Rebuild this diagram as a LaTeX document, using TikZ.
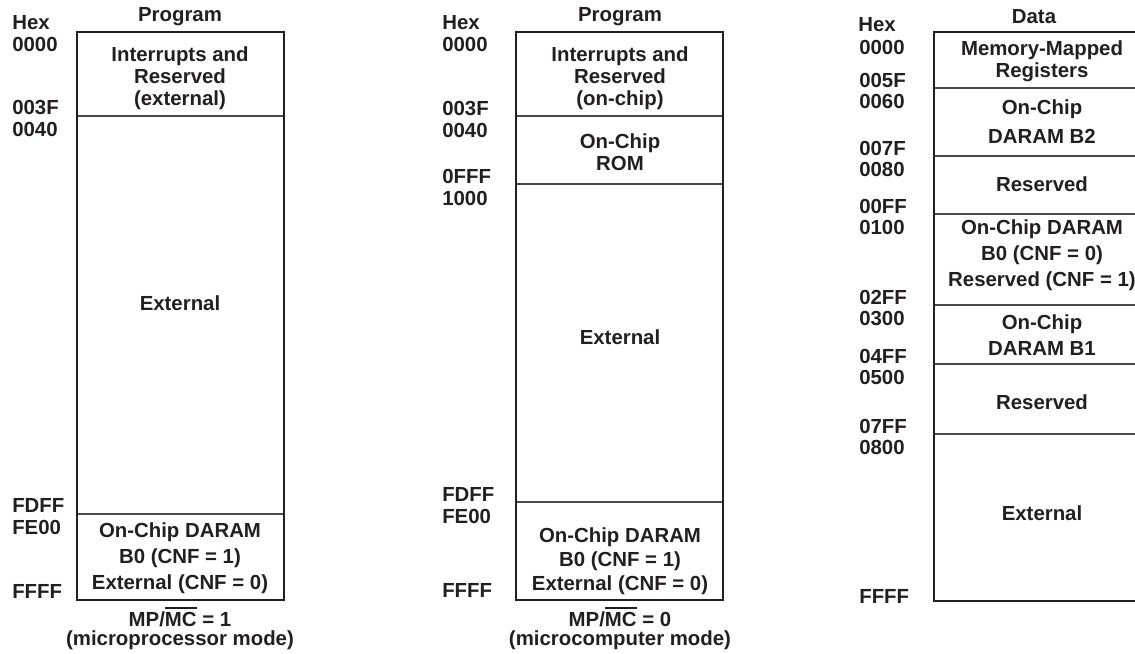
\documentclass[tikz,border=0pt]{standalone}
\usepackage{fontspec}
\setmainfont{Liberation Sans}
\definecolor{mapink}{HTML}{231F20}
\definecolor{mapline}{HTML}{4A4A4A}
\usetikzlibrary{positioning}
\newcommand{\barsig}[1]{\leavevmode\vbox{\hrule height 1.3pt\kern 2.2pt\hbox{#1}}}

\begin{document}
\begin{tikzpicture}[x=0.025cm, y=-0.025cm,
  txt/.style={align=center, inner sep=0pt,
              font=\fontsize{14.5}{15.5}\selectfont\bfseries\color{mapink}},
  addr/.style={txt, anchor=west},
  capt/.style={txt, anchor=base},
  frame/.style={draw=mapink, line width=1.5pt},
  split/.style={draw=mapline, line width=0.75pt}
]
  \useasboundingbox (0,0) rectangle (1135,653);

  %% Program space, MP/MC = 1
  \node[txt]  (ph1) at (180,17) {Program};
  \node[addr] (hx1) at (12,23)  {Hex};
  \draw[split] (77,116) -- (284,116);
  \draw[split] (77,514) -- (284,514);
  \draw[frame] (77,32) rectangle (284,600);
  \node[addr] (a1top) at (12,44)  {0000};
  \node[addr] (a1end) at (12,591) {FFFF};
  \foreach \y/\hi/\lo in {116/003F/0040, 514/FDFF/FE00}{
    \node[addr] (a1hi\y) at (12,\y-9)  {\hi};
    \node[addr] (a1lo\y) at (12,\y+13) {\lo};
  }
  \node[txt] (int1) at (180,78)  {Interrupts and\\Reserved\\(external)};
  \node[txt] (ext1) at (180,303) {External};
  \node[txt] (b01)  at (180,558) {On-Chip DARAM\\[3pt]B0 (CNF = 1)\\[3pt]External (CNF = 0)};
  \node[capt] (md1) at (180,626) {MP/\barsig{MC} = 1};
  \node[capt] (mn1) at (180,645) {(microprocessor mode)};

  %% Program space, MP/MC = 0
  \node[txt]  (ph2) at (620,17) {Program};
  \node[addr] (hx2) at (442,23) {Hex};
  \draw[split] (516,116) -- (723,116);
  \draw[split] (516,184) -- (723,184);
  \draw[split] (516,502) -- (723,502);
  \draw[frame] (516,32) rectangle (723,600);
  \node[addr] (a2top) at (442,44)  {0000};
  \node[addr] (a2end) at (442,590) {FFFF};
  \foreach \y/\hi/\lo in {116/003F/0040, 184/0FFF/1000, 502/FDFF/FE00}{
    \node[addr] (a2hi\y) at (442,\y-8)  {\hi};
    \node[addr] (a2lo\y) at (442,\y+14) {\lo};
  }
  \node[txt] (int2) at (620,78)  {Interrupts and\\Reserved\\(on-chip)};
  \node[txt] (rom2) at (620,152) {On-Chip\\ROM};
  \node[txt] (ext2) at (620,337) {External};
  \node[txt] (b02)  at (620,561) {On-Chip DARAM\\[1.5pt]B0 (CNF = 1)\\[1.5pt]External (CNF = 0)};
  \node[capt] (md2) at (620,626) {MP/\barsig{MC} = 0};
  \node[capt] (mn2) at (620,645) {(microcomputer mode)};

  %% Data space
  \node[txt]  (dh3) at (1034,17) {Data};
  \node[addr] (hx3) at (858,25)  {Hex};
  \foreach \y in {88,156,214,305,364,434}
    \draw[split] (934,\y) -- (1150,\y);
  \draw[frame] (1150,32) -- (934,32) -- (934,601) -- (1150,601);
  \node[addr] (a3top) at (859,47)  {0000};
  \node[addr] (a3end) at (859,596) {FFFF};
  \foreach \y/\hi/\lo in {88/005F/0060, 156/007F/0080, 214/00FF/0100,
                          305/02FF/0300, 364/04FF/0500, 434/07FF/0800}{
    \node[addr] (a3hi\y) at (859,\y-8)  {\hi};
    \node[addr] (a3lo\y) at (859,\y+13) {\lo};
  }
  \node[txt] (mmr3) at (1042,61)  {Memory-Mapped\\Registers};
  \node[txt] (b23)  at (1042,122) {On-Chip\\[5pt]DARAM B2};
  \node[txt] (rs3)  at (1042,184) {Reserved};
  \node[txt] (b03)  at (1042,255) {On-Chip DARAM\\[3pt]B0 (CNF = 0)\\[3pt]Reserved (CNF = 1)};
  \node[txt] (b13)  at (1042,335) {On-Chip\\[3.5pt]DARAM B1};
  \node[txt] (rs3b) at (1042,402) {Reserved};
  \node[txt] (ext3) at (1042,513) {External};
\end{tikzpicture}
\end{document}
